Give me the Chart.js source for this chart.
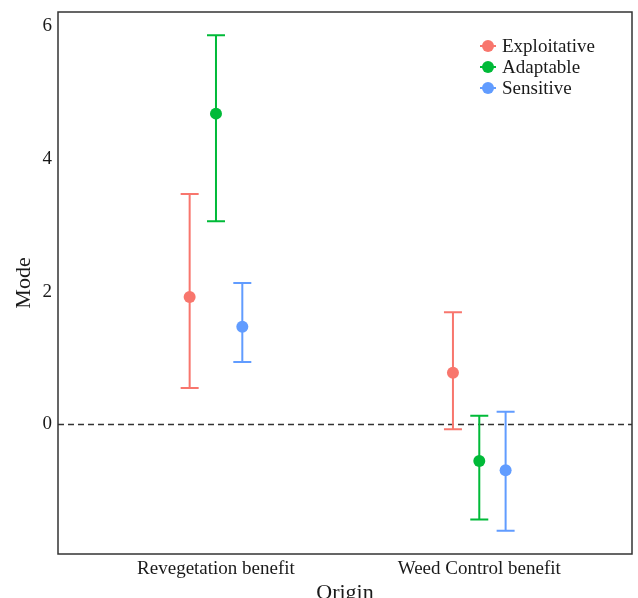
<!DOCTYPE html>
<html>
<head>
<meta charset="utf-8">
<script src="https://cdn.jsdelivr.net/npm/chart.js@4"></script>
<style>
  html, body { margin: 0; padding: 0; background: #fff; }
  #wrap { width: 638px; height: 598px; }
</style>
</head>
<body>
<div id="wrap"><canvas id="chart"></canvas></div>
<script>
// data
const origins = ["Revegetation benefit", "Weed Control benefit"];
const groups = ["Exploitative", "Adaptable", "Sensitive"];
const colors = ["#F8766D", "#00BA38", "#619CFF"];

const modeExploitative = [1.92, 0.78];
const lowExploitative = [0.55, -0.07];
const highExploitative = [3.47, 1.69];

const modeAdaptable = [4.68, -0.55];
const lowAdaptable = [3.06, -1.43];
const highAdaptable = [5.86, 0.13];

const modeSensitive = [1.47, -0.69];
const lowSensitive = [0.94, -1.60];
const highSensitive = [2.13, 0.19];

const yTicks = [0, 2, 4, 6];

const modes = [modeExploitative, modeAdaptable, modeSensitive];
const lows = [lowExploitative, lowAdaptable, lowSensitive];
const highs = [highExploitative, highAdaptable, highSensitive];
const dodge = [-0.1, 0, 0.1];

const serif = "'Liberation Serif', 'DejaVu Serif', serif";

const datasets = groups.map((g, i) => ({
  label: g,
  data: modes[i].map((v, j) => ({ x: j + 1 + dodge[i], y: v, lo: lows[i][j], hi: highs[i][j] })),
  backgroundColor: colors[i],
  borderColor: colors[i],
  pointRadius: 6,
  pointHoverRadius: 6,
  borderWidth: 0
}));

// error bars, zero line and box
const extras = {
  id: "extras",
  beforeDatasetsDraw(chart) {
    const ctx = chart.ctx;
    const xs = chart.scales.x, ys = chart.scales.y;
    const area = chart.chartArea;
    ctx.save();
    ctx.strokeStyle = "#333";
    ctx.lineWidth = 1.3;
    ctx.setLineDash([6, 4]);
    const y0 = ys.getPixelForValue(0);
    ctx.beginPath();
    ctx.moveTo(area.left, y0);
    ctx.lineTo(area.right, y0);
    ctx.stroke();
    ctx.setLineDash([]);
    chart.data.datasets.forEach(ds => {
      ctx.strokeStyle = ds.borderColor;
      ctx.lineWidth = 2;
      ds.data.forEach(p => {
        const x = xs.getPixelForValue(p.x);
        const yl = ys.getPixelForValue(p.lo);
        const yh = ys.getPixelForValue(p.hi);
        ctx.beginPath();
        ctx.moveTo(x, yl); ctx.lineTo(x, yh);
        ctx.moveTo(x - 9, yl); ctx.lineTo(x + 9, yl);
        ctx.moveTo(x - 9, yh); ctx.lineTo(x + 9, yh);
        ctx.stroke();
      });
    });
    ctx.restore();
  },
  afterDraw(chart) {
    const ctx = chart.ctx;
    const area = chart.chartArea;
    ctx.save();
    ctx.strokeStyle = "#333";
    ctx.lineWidth = 1.5;
    ctx.strokeRect(area.left, area.top, area.right - area.left, area.bottom - area.top);
    // legend
    ctx.font = "19px " + serif;
    ctx.textBaseline = "middle";
    chart.data.datasets.forEach((ds, i) => {
      const y = 46 + i * 21;
      ctx.fillStyle = ds.backgroundColor;
      ctx.strokeStyle = ds.backgroundColor;
      ctx.lineWidth = 2;
      ctx.beginPath();
      ctx.moveTo(480, y); ctx.lineTo(496, y);
      ctx.stroke();
      ctx.beginPath();
      ctx.arc(488, y, 6, 0, Math.PI * 2);
      ctx.fill();
      ctx.fillStyle = "#1a1a1a";
      ctx.fillText(ds.label, 502, y + 1);
    });
    ctx.restore();
  }
};

new Chart(document.getElementById("chart"), {
  type: "scatter",
  data: { datasets },
  plugins: [extras],
  options: {
    responsive: true,
    maintainAspectRatio: false,
    animation: false,
    layout: { padding: { top: 12, right: 6, left: 0, bottom: 0 } },
    plugins: { legend: { display: false }, tooltip: { enabled: false } },
    scales: {
      x: {
        type: "linear",
        min: 0.4,
        max: 2.58,
        grid: { display: false, drawTicks: false },
        border: { display: false },
        afterBuildTicks: s => { s.ticks = origins.map((o, i) => ({ value: i + 1 })); },
        afterFit: s => { s.height = 44; s.paddingLeft = 0; s.paddingRight = 0; },
        ticks: {
          padding: 4,
          color: "#1a1a1a",
          font: { family: serif, size: 19 },
          callback: v => origins[v - 1]
        },
        title: {
          display: true,
          text: "Origin",
          color: "#1a1a1a",
          font: { family: serif, size: 22 },
          padding: { top: 0, bottom: -8 }
        }
      },
      y: {
        min: -1.95,
        max: 6.21,
        grid: { display: false, drawTicks: false },
        border: { display: false },
        afterBuildTicks: s => { s.ticks = yTicks.map(v => ({ value: v })); },
        afterFit: s => { s.width = 58; s.paddingTop = 0; s.paddingBottom = 0; },
        ticks: {
          padding: 6,
          color: "#1a1a1a",
          font: { family: serif, size: 19 }
        },
        title: {
          display: true,
          text: "Mode",
          color: "#1a1a1a",
          font: { family: serif, size: 22 },
          padding: { top: 11, bottom: 0 }
        }
      }
    }
  }
});
</script>
</body>
</html>
